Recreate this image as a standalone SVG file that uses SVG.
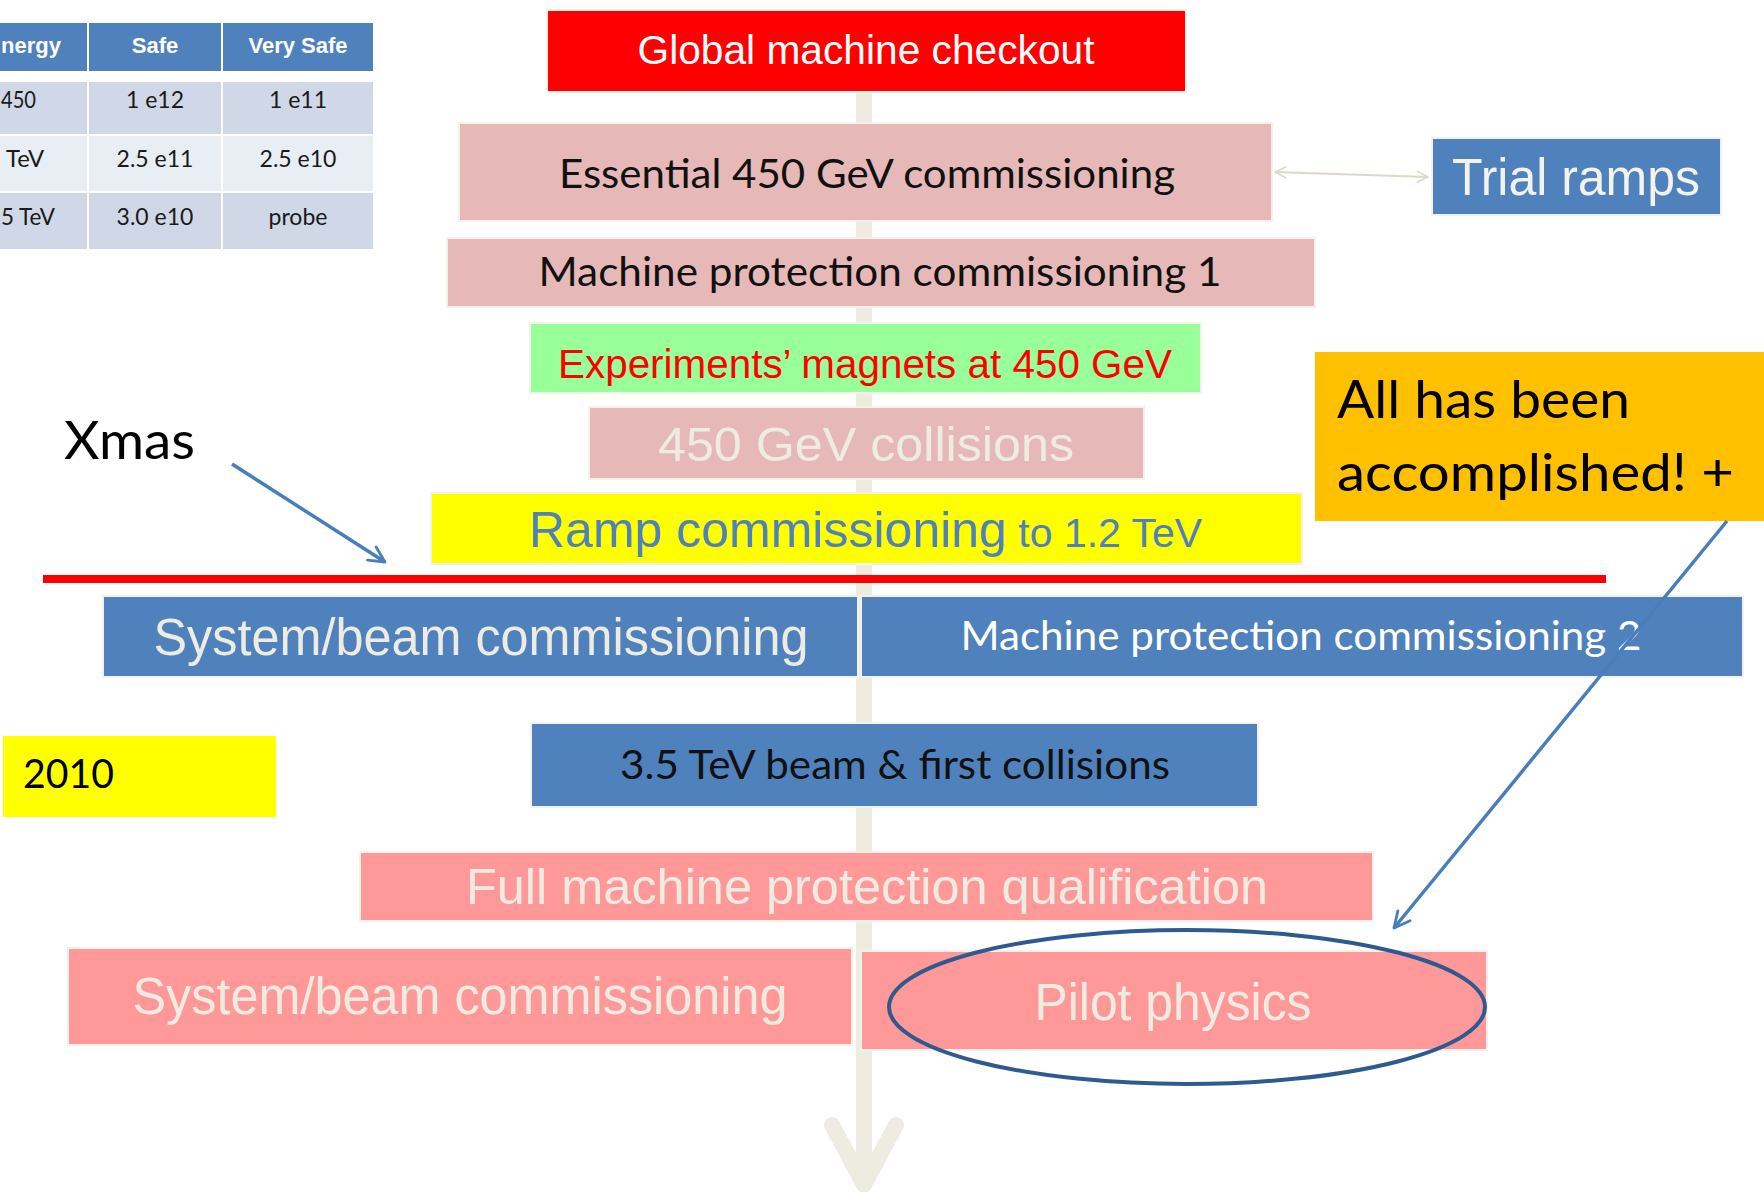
<svg xmlns="http://www.w3.org/2000/svg" width="1764" height="1192" viewBox="0 0 1764 1192">
<defs>
<style>
.a{font-family:"Liberation Sans",Arial,sans-serif}
.c{font-family:Lato,"Liberation Sans",sans-serif}
.bx{stroke:#F3F1EA;stroke-width:2}
.pink{fill:#E6B9B8}
.salmon{fill:#FF9999}
.blue{fill:#4F81BD}
.th{font-family:"Liberation Sans",Arial,sans-serif;font-weight:bold;font-size:22px;fill:#FFFFFF;text-anchor:middle}
.td{font-family:Lato,"Liberation Sans",sans-serif;font-size:23px;fill:#1A1A1A;text-anchor:middle}
.mid{text-anchor:middle}
</style>
<marker id="bluehead" viewBox="0 0 12 12" refX="10.5" refY="6" markerWidth="6" markerHeight="6" markerUnits="strokeWidth" orient="auto">
<path d="M1.5,1.5 L10.5,6 L1.5,10.5" fill="none" stroke="#4A7EBB" stroke-width="1.6" stroke-linecap="round" stroke-linejoin="round"/>
</marker>
<marker id="grayhead" viewBox="0 0 12 12" refX="10.5" refY="6" markerWidth="7" markerHeight="7" markerUnits="strokeWidth" orient="auto-start-reverse">
<path d="M1.5,1.5 L10.5,6 L1.5,10.5" fill="none" stroke="#DDD9C8" stroke-width="1.4" stroke-linecap="round" stroke-linejoin="round"/>
</marker>
</defs>
<rect width="1764" height="1192" fill="#FFFFFF"/>

<g id="timeline">
<path d="M864,50 V1183" fill="none" stroke="#EEECE1" stroke-width="16" stroke-linecap="round"/>
<path d="M832,1125 L864,1185 L896,1125" fill="none" stroke="#EEECE1" stroke-width="16" stroke-linecap="round" stroke-linejoin="round"/>
</g>

<g id="safety-table">
<rect x="-2" y="23" width="89" height="48" class="blue"/>
<rect x="89" y="23" width="132" height="48" class="blue"/>
<rect x="223" y="23" width="150" height="48" class="blue"/>
<rect x="-2" y="82" width="89" height="52" fill="#D0D8E8"/>
<rect x="89" y="82" width="132" height="52" fill="#D0D8E8"/>
<rect x="223" y="82" width="150" height="52" fill="#D0D8E8"/>
<rect x="-2" y="136" width="89" height="55" fill="#E9EDF4"/>
<rect x="89" y="136" width="132" height="55" fill="#E9EDF4"/>
<rect x="223" y="136" width="150" height="55" fill="#E9EDF4"/>
<rect x="-2" y="193" width="89" height="56" fill="#D0D8E8"/>
<rect x="89" y="193" width="132" height="56" fill="#D0D8E8"/>
<rect x="223" y="193" width="150" height="56" fill="#D0D8E8"/>
<text class="th" x="1" y="53" style="text-anchor:start">nergy</text>
<text class="th" x="155" y="53">Safe</text>
<text class="th" x="298" y="53">Very Safe</text>
<text class="td" x="1" y="108" style="text-anchor:start" textLength="35" lengthAdjust="spacingAndGlyphs">450</text>
<text class="td" x="155" y="108">1 e12</text>
<text class="td" x="298" y="108">1 e11</text>
<text class="td" x="6" y="167" style="text-anchor:start" textLength="38" lengthAdjust="spacingAndGlyphs">TeV</text>
<text class="td" x="155" y="167">2.5 e11</text>
<text class="td" x="298" y="167">2.5 e10</text>
<text class="td" x="1" y="225" style="text-anchor:start" textLength="54" lengthAdjust="spacingAndGlyphs">5 TeV</text>
<text class="td" x="155" y="225">3.0 e10</text>
<text class="td" x="298" y="225">probe</text>
</g>

<g id="global-checkout">
<rect x="547" y="10" width="639" height="82" fill="#FF0000" class="bx"/>
<text class="a mid" x="866" y="64" font-size="40" fill="#FFFFFF" textLength="457" lengthAdjust="spacingAndGlyphs">Global machine checkout</text>
</g>

<g id="essential-450">
<rect x="459" y="123" width="813" height="98" class="pink bx"/>
<text class="c mid" x="867" y="188" font-size="40" fill="#111111" textLength="616" lengthAdjust="spacingAndGlyphs">Essential 450 GeV commissioning</text>
</g>

<g id="trial-ramps">
<rect x="1432" y="138" width="289" height="77" class="blue bx"/>
<text class="a mid" x="1576" y="195" font-size="52" fill="#F4F2EA" textLength="248" lengthAdjust="spacingAndGlyphs">Trial ramps</text>
</g>

<g id="mp-commissioning-1">
<rect x="447" y="238" width="868" height="69" class="pink bx"/>
<text class="c mid" x="880" y="286" font-size="40" fill="#111111" textLength="683" lengthAdjust="spacingAndGlyphs">Machine protection commissioning 1</text>
</g>

<g id="experiments-magnets">
<rect x="530" y="323" width="671" height="70" fill="#99FF99" class="bx"/>
<text class="a mid" x="865" y="378" font-size="41" fill="#FF0000" textLength="614" lengthAdjust="spacingAndGlyphs">Experiments’ magnets at 450 GeV</text>
</g>

<g id="accomplished">
<rect x="1315" y="352" width="449" height="169" fill="#FFC000"/>
<text class="c" x="1337" y="418" font-size="53" fill="#000000" textLength="293" lengthAdjust="spacingAndGlyphs">All has been</text>
<text class="c" x="1337" y="491" font-size="53" fill="#000000" textLength="397" lengthAdjust="spacingAndGlyphs">accomplished! +</text>
</g>

<g id="collisions-450">
<rect x="589" y="407" width="555" height="72" class="pink bx"/>
<text class="a mid" x="866" y="461" font-size="48" fill="#EEECE1" textLength="416" lengthAdjust="spacingAndGlyphs">450 GeV collisions</text>
</g>

<g id="xmas">
<text class="c" x="64" y="459" font-size="52" fill="#000000" textLength="131" lengthAdjust="spacingAndGlyphs">Xmas</text>
</g>

<g id="ramp-commissioning">
<rect x="431" y="493" width="871" height="71" fill="#FFFF00" class="bx"/>
<text class="a" x="529" y="547" fill="#4F81BD"><tspan font-size="50">Ramp commissioning</tspan><tspan font-size="41"> to 1.2 TeV</tspan></text>
</g>

<g id="xmas-line">
<rect x="43" y="575" width="1563" height="8" fill="#FF0000"/>
</g>

<g id="system-beam-1">
<rect x="103" y="596" width="755" height="81" class="blue bx"/>
<text class="a mid" x="481" y="655" font-size="51" fill="#EEECE1" textLength="655" lengthAdjust="spacingAndGlyphs">System/beam commissioning</text>
</g>

<g id="mp-commissioning-2">
<rect x="861" y="596" width="882" height="81" class="blue bx"/>
<text class="c mid" x="1301" y="650" font-size="41" fill="#FFFFFF" textLength="681" lengthAdjust="spacingAndGlyphs">Machine protection commissioning 2</text>
</g>

<g id="year-2010">
<rect x="3" y="736" width="273" height="81" fill="#FFFF00"/>
<text class="c" x="23" y="788" font-size="40" fill="#000000" textLength="91" lengthAdjust="spacingAndGlyphs">2010</text>
</g>

<g id="first-collisions">
<rect x="531" y="723" width="727" height="84" class="blue bx"/>
<text class="c mid" x="895" y="779" font-size="40" fill="#111111" textLength="550" lengthAdjust="spacingAndGlyphs">3.5 TeV beam &amp; first collisions</text>
</g>

<g id="full-mp-qualification">
<rect x="360" y="852" width="1013" height="69" class="salmon bx"/>
<text class="a mid" x="867" y="904" font-size="50" fill="#EEECE1" textLength="802" lengthAdjust="spacingAndGlyphs">Full machine protection qualification</text>
</g>

<g id="system-beam-2">
<rect x="68" y="948" width="784" height="97" class="salmon bx"/>
<text class="a mid" x="460" y="1014" font-size="51" fill="#EEECE1" textLength="655" lengthAdjust="spacingAndGlyphs">System/beam commissioning</text>
</g>

<g id="pilot-physics">
<rect x="861" y="951" width="626" height="99" class="salmon bx"/>
<text class="a mid" x="1173" y="1020" font-size="51" fill="#EEECE1" textLength="277" lengthAdjust="spacingAndGlyphs">Pilot physics</text>
</g>

<g id="pilot-highlight">
<ellipse cx="1187" cy="1007" rx="298" ry="77" fill="none" stroke="#2F5A8F" stroke-width="4"/>
</g>

<g id="connectors">
<line x1="1275" y1="172" x2="1428" y2="177" stroke="#DDD9C8" stroke-width="2" marker-start="url(#grayhead)" marker-end="url(#grayhead)"/>
<line x1="232" y1="464" x2="385" y2="562" stroke="#4A7EBB" stroke-width="3.5" marker-end="url(#bluehead)"/>
<line x1="1727" y1="521" x2="1394" y2="928" stroke="#4A7EBB" stroke-width="3.5" marker-end="url(#bluehead)"/>
</g>
</svg>
